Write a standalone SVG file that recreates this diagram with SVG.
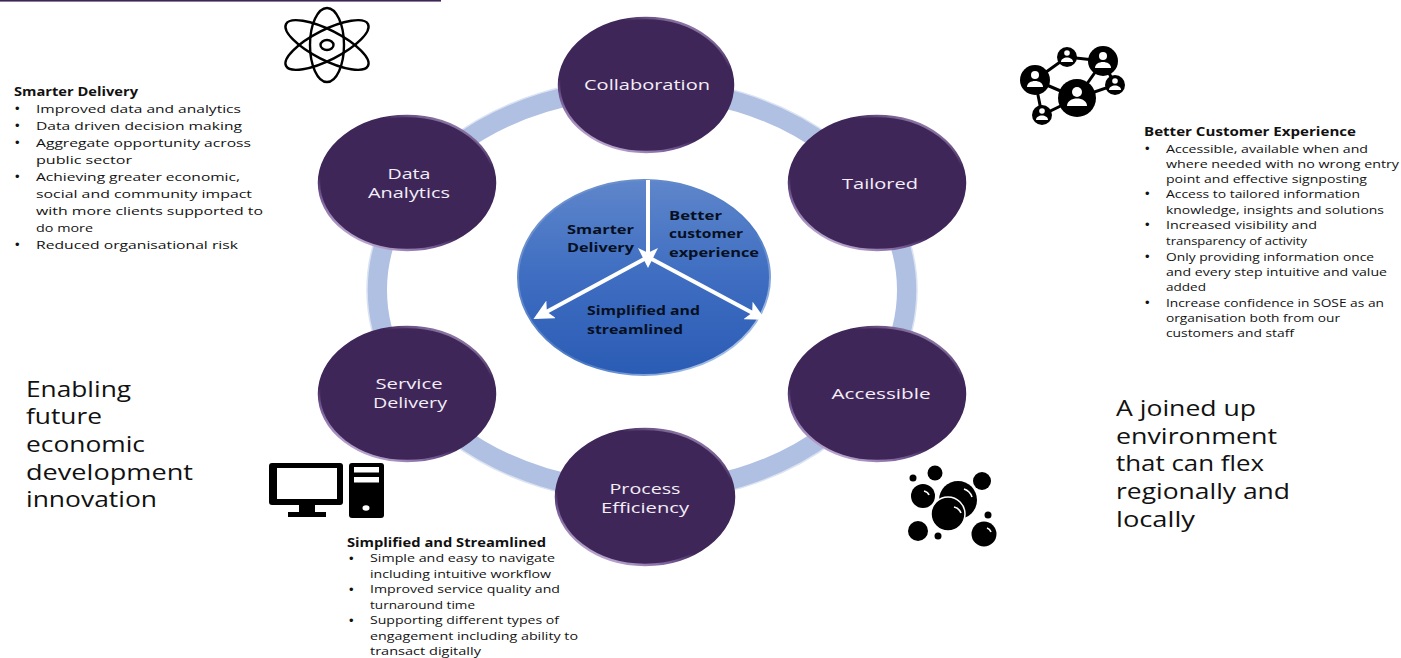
<svg xmlns="http://www.w3.org/2000/svg" width="1401" height="658" viewBox="0 0 1401 658">
<style>
text{font-family:"Open Sans","Noto Sans","Liberation Sans",sans-serif;fill:#111}
.b{font-size:11.5px}
.b .bu{font-family:"Liberation Sans",sans-serif;font-size:13px}
.h{font-size:11.5px;font-weight:700}
.big{font-size:21px}
.n{font-size:15px;fill:#f3eef7;text-anchor:middle}
.c{font-size:13px;font-weight:700;fill:#06101f}
.node{fill:#3f2659;stroke:url(#rim);stroke-width:2.5}
.ic{fill:none;stroke:#000;stroke-width:2.4}
.w{fill:#fff}
.hl{fill:none;stroke:#fff;stroke-width:1.6}
.arrow{stroke:#fff;stroke-width:4;fill:none}
</style>
<defs>
<linearGradient id="rim" x1="0.2" y1="1" x2="0.8" y2="0">
<stop offset="0" stop-color="#d6c6e6"/><stop offset="0.2" stop-color="#7a5f9a"/><stop offset="0.32" stop-color="#3f2659"/><stop offset="0.8" stop-color="#3f2659"/><stop offset="1" stop-color="#b09cc8"/>
</linearGradient>
<linearGradient id="blue" x1="0" y1="0" x2="0" y2="1">
<stop offset="0" stop-color="#5e86cb"/><stop offset="0.5" stop-color="#3e6dc1"/><stop offset="1" stop-color="#2b5cb5"/>
</linearGradient>
<linearGradient id="edge" x1="0" y1="0" x2="1" y2="1">
<stop offset="0" stop-color="#7a9ad0"/><stop offset="0.6" stop-color="#4a78c4"/><stop offset="1" stop-color="#d8e6f8"/>
</linearGradient>
<marker id="ah" markerWidth="5" markerHeight="5" refX="4" refY="2.5" orient="auto" markerUnits="strokeWidth"><path d="M0,0L5,2.5L0,5L1.2,2.5Z" fill="#fff"/></marker>
</defs>
<rect width="1401" height="658" fill="#fff"/>
<rect id="topline" x="0" y="0" width="441" height="1.6" fill="#3f2659"/>

<g id="connectors">
<ellipse cx="642" cy="290" rx="265" ry="202" fill="none" stroke="#afc0e2" stroke-width="20"/>
<ellipse cx="642" cy="290" rx="275" ry="212" fill="none" stroke="#dbe3f3" stroke-width="1.5"/>
</g>

<g id="node-collaboration"><ellipse class="node" cx="646" cy="85" rx="87" ry="67"/><text class="n" x="647" y="90" textLength="126" lengthAdjust="spacingAndGlyphs">Collaboration</text></g>
<g id="node-tailored"><ellipse class="node" cx="877" cy="183" rx="88" ry="67"/><text class="n" x="880" y="189" textLength="76" lengthAdjust="spacingAndGlyphs">Tailored</text></g>
<g id="node-accessible"><ellipse class="node" cx="877" cy="394" rx="88" ry="67"/><text class="n" x="881" y="399" textLength="99" lengthAdjust="spacingAndGlyphs">Accessible</text></g>
<g id="node-process"><ellipse class="node" cx="645" cy="497" rx="89" ry="68"/><text class="n" x="645" y="494" textLength="71" lengthAdjust="spacingAndGlyphs">Process</text><text class="n" x="645" y="513" textLength="88" lengthAdjust="spacingAndGlyphs">Efficiency</text></g>
<g id="node-service"><ellipse class="node" cx="407" cy="394" rx="88" ry="67"/><text class="n" x="409" y="389" textLength="67" lengthAdjust="spacingAndGlyphs">Service</text><text class="n" x="410" y="408" textLength="74" lengthAdjust="spacingAndGlyphs">Delivery</text></g>
<g id="node-data"><ellipse class="node" cx="407" cy="183" rx="88" ry="67"/><text class="n" x="409" y="179" textLength="43" lengthAdjust="spacingAndGlyphs">Data</text><text class="n" x="409" y="198" textLength="82" lengthAdjust="spacingAndGlyphs">Analytics</text></g>

<g id="node-centre">
<ellipse cx="644" cy="277.5" rx="126" ry="97.5" fill="url(#blue)" stroke="url(#edge)" stroke-width="2"/>
<path class="arrow" d="M648,180V264" marker-end="url(#ah)"/>
<path class="arrow" d="M648,257L537,317" marker-end="url(#ah)"/>
<path class="arrow" d="M648,257L762,318" marker-end="url(#ah)"/>
<text class="c" x="567" y="234" textLength="67" lengthAdjust="spacingAndGlyphs">Smarter</text>
<text class="c" x="567" y="252" textLength="67" lengthAdjust="spacingAndGlyphs">Delivery</text>
<text class="c" x="669" y="220" textLength="53" lengthAdjust="spacingAndGlyphs">Better</text>
<text class="c" x="669" y="238" textLength="74" lengthAdjust="spacingAndGlyphs">customer</text>
<text class="c" x="669" y="257" textLength="90" lengthAdjust="spacingAndGlyphs">experience</text>
<text class="c" x="587" y="315" textLength="113" lengthAdjust="spacingAndGlyphs">Simplified and</text>
<text class="c" x="587" y="334" textLength="96" lengthAdjust="spacingAndGlyphs">streamlined</text>
</g>

<g id="icon-atom" class="ic">
<ellipse cx="327" cy="45" rx="17" ry="37"/>
<ellipse cx="327" cy="45" rx="46" ry="15" transform="rotate(27 327 45)"/>
<ellipse cx="327" cy="45" rx="46" ry="15" transform="rotate(-27 327 45)"/>
<ellipse cx="327" cy="45" rx="6.5" ry="5"/>
</g>

<g id="icon-network">
<path d="M1035,80L1067,57L1103,61L1077,98L1115,85L1103,61M1035,80L1042,115L1077,98M1035,80L1077,98" fill="none" stroke="#000" stroke-width="3"/>
<circle cx="1035" cy="80" r="15"/><circle cx="1067" cy="57" r="10"/><circle cx="1103" cy="61" r="15"/><circle cx="1115" cy="85" r="10"/><circle cx="1077" cy="98" r="19"/><circle cx="1042" cy="115" r="10"/>
<g class="w">
<circle cx="1035" cy="75" r="4"/><path d="M1027,87c0-8,16-8,16,0z"/>
<circle cx="1067" cy="53" r="2.8"/><path d="M1061,62c0-6,12-6,12,0z"/>
<circle cx="1103" cy="56" r="4"/><path d="M1095,68c0-8,16-8,16,0z"/>
<circle cx="1115" cy="81" r="2.8"/><path d="M1109,90c0-6,12-6,12,0z"/>
<circle cx="1077" cy="92" r="5"/><path d="M1067,106c0-10,20-10,20,0z"/>
<circle cx="1042" cy="111" r="2.8"/><path d="M1036,120c0-6,12-6,12,0z"/>
</g>
</g>

<g id="icon-computer">
<rect x="269" y="463" width="74" height="42" rx="3"/><rect class="w" x="277" y="468" width="60" height="31"/>
<rect x="299" y="505" width="16" height="8"/><rect x="288" y="512" width="38" height="5"/>
<rect x="349" y="463" width="35" height="55" rx="3"/>
<rect class="w" x="354" y="467" width="25" height="5.5"/><rect class="w" x="354" y="477" width="25" height="5.5"/>
<ellipse class="w" cx="366" cy="508" rx="3.5" ry="2.8"/>
</g>

<g id="icon-bubbles">
<circle cx="935" cy="473" r="7.5"/><circle cx="913" cy="478" r="3.5"/><circle cx="982" cy="481" r="9"/>
<circle cx="923" cy="496" r="12"/><circle cx="958" cy="500" r="19"/>
<circle cx="948" cy="514" r="17" stroke="#fff" stroke-width="1.5"/>
<circle cx="988" cy="515" r="3.5"/><circle cx="918" cy="531" r="10"/><circle cx="938" cy="536" r="3.5"/><circle cx="984" cy="534" r="12.5"/>
<path class="hl" d="M924,491q4,1,5,4M964,489q6,2,8,8M954,507q5,1,7,6M987,528q3,1,4,4"/>
</g>

<g id="text-smarter">
<text class="h" x="14" y="96" textLength="124" lengthAdjust="spacingAndGlyphs">Smarter Delivery</text>
<g class="b">
<text class="bu" x="15" y="113">•</text><text x="36" y="113" textLength="205" lengthAdjust="spacingAndGlyphs">Improved data and analytics</text>
<text class="bu" x="15" y="130">•</text><text x="36" y="130" textLength="206" lengthAdjust="spacingAndGlyphs">Data driven decision making</text>
<text class="bu" x="15" y="147">•</text><text x="36" y="147" textLength="215" lengthAdjust="spacingAndGlyphs">Aggregate opportunity across</text>
<text x="36" y="164" textLength="96" lengthAdjust="spacingAndGlyphs">public sector</text>
<text class="bu" x="15" y="181">•</text><text x="36" y="181" textLength="204" lengthAdjust="spacingAndGlyphs">Achieving greater economic,</text>
<text x="36" y="198" textLength="216" lengthAdjust="spacingAndGlyphs">social and community impact</text>
<text x="36" y="215" textLength="227" lengthAdjust="spacingAndGlyphs">with more clients supported to</text>
<text x="36" y="232" textLength="57" lengthAdjust="spacingAndGlyphs">do more</text>
<text class="bu" x="15" y="249">•</text><text x="36" y="249" textLength="202" lengthAdjust="spacingAndGlyphs">Reduced organisational risk</text>
</g>
</g>

<g id="text-better">
<text class="h" x="1144" y="136" textLength="212" lengthAdjust="spacingAndGlyphs">Better Customer Experience</text>
<g class="b">
<text class="bu" x="1145" y="153">•</text><text x="1166" y="153" textLength="202" lengthAdjust="spacingAndGlyphs">Accessible, available when and</text>
<text x="1166" y="168" textLength="233" lengthAdjust="spacingAndGlyphs">where needed with no wrong entry</text>
<text x="1166" y="183" textLength="201" lengthAdjust="spacingAndGlyphs">point and effective signposting</text>
<text class="bu" x="1145" y="198">•</text><text x="1166" y="198" textLength="194" lengthAdjust="spacingAndGlyphs">Access to tailored information</text>
<text x="1166" y="214" textLength="218" lengthAdjust="spacingAndGlyphs">knowledge, insights and solutions</text>
<text class="bu" x="1145" y="229">•</text><text x="1166" y="229" textLength="151" lengthAdjust="spacingAndGlyphs">Increased visibility and</text>
<text x="1166" y="245" textLength="141" lengthAdjust="spacingAndGlyphs">transparency of activity</text>
<text class="bu" x="1145" y="261">•</text><text x="1166" y="261" textLength="208" lengthAdjust="spacingAndGlyphs">Only providing information once</text>
<text x="1166" y="276" textLength="221" lengthAdjust="spacingAndGlyphs">and every step intuitive and value</text>
<text x="1166" y="291" textLength="40" lengthAdjust="spacingAndGlyphs">added</text>
<text class="bu" x="1145" y="307">•</text><text x="1166" y="307" textLength="218" lengthAdjust="spacingAndGlyphs">Increase confidence in SOSE as an</text>
<text x="1166" y="322" textLength="174" lengthAdjust="spacingAndGlyphs">organisation both from our</text>
<text x="1166" y="337" textLength="128" lengthAdjust="spacingAndGlyphs">customers and staff</text>
</g>
</g>

<g id="text-simplified">
<text class="h" x="347" y="547" textLength="199" lengthAdjust="spacingAndGlyphs">Simplified and Streamlined</text>
<g class="b">
<text class="bu" x="349" y="563">•</text><text x="370" y="562" textLength="185" lengthAdjust="spacingAndGlyphs">Simple and easy to navigate</text>
<text x="370" y="578" textLength="181" lengthAdjust="spacingAndGlyphs">including intuitive workflow</text>
<text class="bu" x="349" y="594">•</text><text x="370" y="593" textLength="190" lengthAdjust="spacingAndGlyphs">Improved service quality and</text>
<text x="370" y="609" textLength="105" lengthAdjust="spacingAndGlyphs">turnaround time</text>
<text class="bu" x="349" y="625">•</text><text x="370" y="624" textLength="189" lengthAdjust="spacingAndGlyphs">Supporting different types of</text>
<text x="370" y="640" textLength="208" lengthAdjust="spacingAndGlyphs">engagement including ability to</text>
<text x="370" y="655" textLength="111" lengthAdjust="spacingAndGlyphs">transact digitally</text>
</g>
</g>

<g id="text-enabling" class="big">
<text x="26" y="397" textLength="105" lengthAdjust="spacingAndGlyphs">Enabling</text>
<text x="26" y="424" textLength="76" lengthAdjust="spacingAndGlyphs">future</text>
<text x="26" y="452" textLength="119" lengthAdjust="spacingAndGlyphs">economic</text>
<text x="26" y="480" textLength="167" lengthAdjust="spacingAndGlyphs">development</text>
<text x="26" y="507" textLength="131" lengthAdjust="spacingAndGlyphs">innovation</text>
</g>
<g id="text-joined" class="big">
<text x="1116" y="416" textLength="140" lengthAdjust="spacingAndGlyphs">A joined up</text>
<text x="1116" y="444" textLength="161" lengthAdjust="spacingAndGlyphs">environment</text>
<text x="1116" y="471" textLength="148" lengthAdjust="spacingAndGlyphs">that can flex</text>
<text x="1116" y="499" textLength="174" lengthAdjust="spacingAndGlyphs">regionally and</text>
<text x="1116" y="527" textLength="79" lengthAdjust="spacingAndGlyphs">locally</text>
</g>
</svg>
